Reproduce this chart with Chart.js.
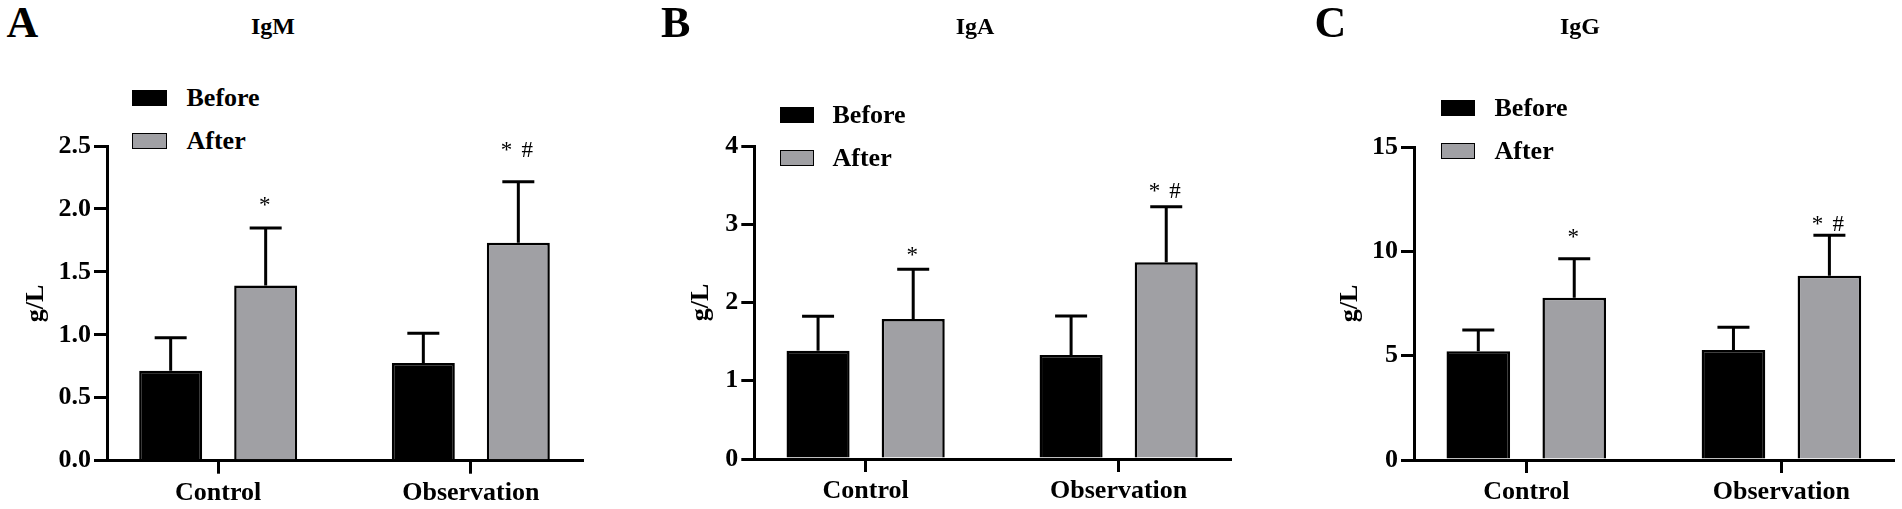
<!DOCTYPE html>
<html>
<head>
<meta charset="utf-8">
<script src="https://cdn.jsdelivr.net/npm/chart.js@4.4.1/dist/chart.umd.min.js"></script>
<style>
html,body{margin:0;padding:0;background:#fff;overflow:hidden;}
#wrap{position:relative;width:1902px;height:509px;overflow:hidden;background:#fff;}
canvas{position:absolute;left:0;top:0;}
.txt{position:absolute;font-family:'Liberation Serif','Times New Roman',serif;font-weight:bold;line-height:1;white-space:nowrap;color:#000;}
.box{position:absolute;box-sizing:border-box;border:1.5px solid #000;}
</style>
</head>
<body>
<div id="wrap"></div>
<script>
// ---------- data ----------
const categories = ['Control', 'Observation'];
const seriesNames = ['Before', 'After'];
const panelLetters = ['A', 'B', 'C'];
const panelTitles = ['IgM', 'IgA', 'IgG'];
const yAxisTitle = 'g/L';

// IgM (g/L): means and SD
const igmBefore   = [0.715, 0.777];
const igmBeforeSD = [0.262, 0.236];
const igmAfter    = [1.392, 1.731];
const igmAfterSD  = [0.456, 0.485];
const igmMarks    = ['*', '* #'];
const igmTicks    = ['0.0', '0.5', '1.0', '1.5', '2.0', '2.5'];

// IgA (g/L)
const igaBefore   = [1.384, 1.329];
const igaBeforeSD = [0.440, 0.498];
const igaAfter    = [1.789, 2.513];
const igaAfterSD  = [0.635, 0.711];
const igaMarks    = ['*', '* #'];
const igaTicks    = ['0', '1', '2', '3', '4'];

// IgG (g/L)
const iggBefore   = [5.21, 5.27];
const iggBeforeSD = [1.02, 1.09];
const iggAfter    = [7.78, 8.83];
const iggAfterSD  = [1.87, 1.94];
const iggMarks    = ['*', '* #'];
const iggTicks    = ['0', '5', '10', '15'];

// ---------- styling / layout ----------
const FONT = "'Liberation Serif', 'Times New Roman', serif";
const barColors = ['#000000', '#a0a0a4'];
const W = 1902, H = 509;

const panels = [
  { before: igmBefore, beforeSD: igmBeforeSD, after: igmAfter, afterSD: igmAfterSD, marks: igmMarks, ticks: igmTicks,
    axisX: 107, right: 582, top: 146, bottom: 460.7, titleX: 36,
    letterLeft: 6.5, titleCenter: 273, legBox: 132.3, legText: 186.5, legTop: 90, gaps: [16, 25] },
  { before: igaBefore, beforeSD: igaBeforeSD, after: igaAfter, afterSD: igaAfterSD, marks: igaMarks, ticks: igaTicks,
    axisX: 754.3, right: 1230, top: 146, bottom: 459, titleX: 701,
    letterLeft: 661, titleCenter: 975, legBox: 780, legText: 832.5, legTop: 107.3, gaps: [7.3, 8.4] },
  { before: iggBefore, beforeSD: iggBeforeSD, after: iggAfter, afterSD: iggAfterSD, marks: iggMarks, ticks: iggTicks,
    axisX: 1414, right: 1893.7, top: 147, bottom: 460, titleX: 1350,
    letterLeft: 1314.5, titleCenter: 1580, legBox: 1441, legText: 1494.5, legTop: 100, gaps: [14.6, 4.5] }
];

const wrap = document.getElementById('wrap');

function addText(text, left, baseline, size, center) {
  const d = document.createElement('div');
  d.className = 'txt';
  d.textContent = text;
  d.style.fontSize = size + 'px';
  d.style.top = (baseline - 0.8375 * size) + 'px';
  d.style.left = left + 'px';
  if (center) d.style.transform = 'translateX(-50%)';
  wrap.appendChild(d);
}

const errorBarPlugin = {
  id: 'errbars',
  afterDatasetsDraw(chart, args, opts) {
    const ctx = chart.ctx;
    const y = chart.scales.y;
    ctx.save();
    ctx.strokeStyle = '#000';
    ctx.fillStyle = '#000';
    ctx.lineWidth = 3;
    chart.data.datasets.forEach((ds, di) => {
      const meta = chart.getDatasetMeta(di);
      meta.data.forEach((bar, i) => {
        const topPx = y.getPixelForValue(ds.data[i].y + ds.sd[i]);
        ctx.beginPath();
        ctx.moveTo(bar.x, bar.y);
        ctx.lineTo(bar.x, topPx);
        ctx.moveTo(bar.x - 16, topPx);
        ctx.lineTo(bar.x + 16, topPx);
        ctx.stroke();
        if (ds.marks && ds.marks[i]) {
          ctx.font = '23px ' + FONT;
          ctx.textAlign = 'center';
          ctx.textBaseline = 'alphabetic';
          const tokens = ds.marks[i].split(' ');
          const base = topPx - opts.gaps[i];
          if (tokens.length === 1) {
            ctx.fillText(tokens[0], bar.x - 1, base);
          } else {
            const step = 20.7;
            const start = bar.x - 1.5 - step * (tokens.length - 1) / 2;
            tokens.forEach((t, k) => ctx.fillText(t, start + k * step, base));
          }
        }
      });
    });
    ctx.restore();
  }
};

panels.forEach((p, pi) => {
  addText(panelLetters[pi], p.letterLeft, 38.3, 44, false);
  addText(panelTitles[pi], p.titleCenter, 34.3, 24, true);
  seriesNames.forEach((name, si) => {
    const top = p.legTop + si * 43;
    const b = document.createElement('div');
    b.className = 'box';
    b.style.left = p.legBox + 'px';
    b.style.top = top + 'px';
    b.style.width = '34.4px';
    b.style.height = '16px';
    b.style.background = barColors[si];
    wrap.appendChild(b);
    addText(name, p.legText, top + 16.6, 26, false);
  });

  const canvas = document.createElement('canvas');
  canvas.width = W; canvas.height = H;
  canvas.style.width = W + 'px'; canvas.style.height = H + 'px';
  wrap.appendChild(canvas);

  const yScaleLeft = p.titleX - 15.6;
  const yTickVals = p.ticks.map(t => parseFloat(t));
  const series = [[p.before, p.beforeSD], [p.after, p.afterSD]];

  new Chart(canvas, {
    type: 'bar',
    data: {
      datasets: series.map(([vals, sds], si) => ({
        label: seriesNames[si],
        data: vals.map((v, i) => ({ x: i, y: v })),
        sd: sds,
        marks: si === 1 ? p.marks : null,
        backgroundColor: barColors[si],
        borderColor: '#000',
        borderWidth: 2.5,
        categoryPercentage: 0.752,
        barPercentage: 0.663
      }))
    },
    options: {
      responsive: false,
      animation: false,
      layout: { padding: { left: yScaleLeft, right: W - p.right, top: p.top, bottom: 0 } },
      plugins: {
        legend: { display: false },
        tooltip: { enabled: false },
        errbars: { gaps: p.gaps }
      },
      scales: {
        x: {
          type: 'linear',
          min: -0.44, max: 1.44,
          bounds: 'data',
          offset: false,
          afterBuildTicks: s => { s.ticks = categories.map((c, i) => ({ value: i })); },
          afterFit: s => { s.height = H - p.bottom; },
          ticks: {
            callback: v => categories[Math.round(v)],
            font: { family: FONT, size: 26, weight: 'bold' },
            color: '#000', padding: 4, maxRotation: 0, autoSkip: false
          },
          grid: { offset: false, drawOnChartArea: false, drawTicks: true, tickLength: 13, lineWidth: 3, color: '#000' },
          border: { display: true, width: 3, color: '#000' }
        },
        y: {
          min: yTickVals[0], max: yTickVals[yTickVals.length - 1],
          bounds: 'data',
          afterBuildTicks: s => { s.ticks = yTickVals.map(v => ({ value: v })); },
          afterFit: s => { s.width = p.axisX - yScaleLeft; },
          ticks: {
            callback: (v, i) => p.ticks[i],
            font: { family: FONT, size: 26, weight: 'bold' },
            color: '#000', padding: 3
          },
          grid: { drawOnChartArea: false, drawTicks: true, tickLength: 13, lineWidth: 3, color: '#000' },
          border: { display: true, width: 3, color: '#000' },
          title: {
            display: true, text: yAxisTitle, color: '#000',
            font: { family: FONT, size: 26, weight: 'bold' },
            padding: { top: 0, bottom: 0 }
          }
        }
      }
    },
    plugins: [errorBarPlugin]
  });
});
</script>
</body>
</html>
